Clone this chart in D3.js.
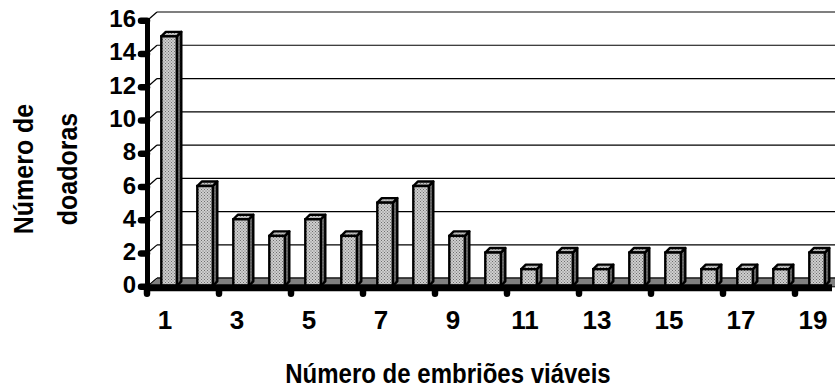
<!DOCTYPE html>
<html>
<head>
<meta charset="utf-8">
<script src="https://cdn.jsdelivr.net/npm/d3@7"></script>
<style>
  html, body { margin: 0; padding: 0; background: #fff; }
  svg { display: block; }
  text { font-family: "Liberation Sans", Arial, Helvetica, sans-serif; font-weight: bold; fill: #000; }
</style>
</head>
<body>
<svg id="chart" width="835" height="389"></svg>
<script>
// Number of viable embryos per donor
const categories = d3.range(1, 20).map(String);
const donors = [15, 6, 4, 3, 4, 3, 5, 6, 3, 2, 1, 2, 1, 2, 2, 1, 1, 1, 2];
const yTicks = [0, 2, 4, 6, 8, 10, 12, 14, 16];
const xTickLabels = ["1", "3", "5", "7", "9", "11", "13", "15", "17", "19"];
const xTitle = "Número de embriões viáveis";
const yTitleLines = ["Número de", "doadoras"];

const W = 835, H = 389;
const svg = d3.select("#chart");

// front plane of the 3D box
const x0 = 147, x1 = 831;
const x = d3.scaleBand().domain(categories).range([x0, x1]).padding(0);
const y = d3.scaleLinear().domain([0, 16]).range([286.8, 20.7]);

// oblique depth of the box (back wall offset) and of each column
const DX = 10, DY = -8.7;
const bDX = 4.5, bDY = -4.5;
const barOffset = 14.3, barW = 15.5, barLift = -1;

// fills
const defs = svg.append("defs");
function stipple(id, bg, dot) {
  const p = defs.append("pattern").attr("id", id)
    .attr("width", 3).attr("height", 3).attr("patternUnits", "userSpaceOnUse");
  p.append("rect").attr("width", 3).attr("height", 3).attr("fill", bg);
  p.append("rect").attr("x", 0).attr("y", 0).attr("width", 1).attr("height", 1).attr("fill", dot);
  p.append("rect").attr("x", 1.5).attr("y", 1.5).attr("width", 1).attr("height", 1).attr("fill", dot);
}
stipple("frontFill", "#cfcfcf", "#6e6e6e");
stipple("sideFill", "#6a6a6a", "#333");
stipple("topFill", "#c4c4c4", "#7a7a7a");

// back wall gridlines
svg.append("g").selectAll("line").data(yTicks).join("line")
  .attr("x1", x0 + DX).attr("x2", W + 2)
  .attr("y1", d => y(d) + DY).attr("y2", d => y(d) + DY)
  .attr("stroke", "#000").attr("stroke-width", 1.2);

// side wall gridlines
svg.append("g").selectAll("line").data(yTicks).join("line")
  .attr("x1", x0).attr("x2", x0 + DX)
  .attr("y1", d => y(d)).attr("y2", d => y(d) + DY)
  .attr("stroke", "#000").attr("stroke-width", 1.2);

// floor
svg.append("path")
  .attr("d", `M${x0},${y(0)} L${x0 + DX},${y(0) + DY} L${W + 2},${y(0) + DY} L${W + 2},${y(0)} Z`)
  .attr("fill", "#808080").attr("stroke", "#000").attr("stroke-width", 1);

// columns
const bars = svg.append("g").selectAll("g").data(donors).join("g");
bars.each(function (v, i) {
  const g = d3.select(this);
  const fx = x(categories[i]) + barOffset;
  const yt = y(v) + barLift, yb = y(0) + barLift;
  g.append("path")
    .attr("d", `M${fx + barW},${yt} L${fx + barW + bDX},${yt + bDY} L${fx + barW + bDX},${yb + bDY} L${fx + barW},${yb} Z`)
    .attr("fill", "url(#sideFill)").attr("stroke", "#000").attr("stroke-width", 2.4).attr("stroke-linejoin", "round");
  g.append("path")
    .attr("d", `M${fx},${yt} L${fx + bDX},${yt + bDY} L${fx + barW + bDX},${yt + bDY} L${fx + barW},${yt} Z`)
    .attr("fill", "url(#topFill)").attr("stroke", "#000").attr("stroke-width", 2.4).attr("stroke-linejoin", "round");
  g.append("rect")
    .attr("x", fx).attr("y", yt).attr("width", barW).attr("height", yb - yt)
    .attr("fill", "url(#frontFill)").attr("stroke", "#000").attr("stroke-width", 2.4);
});

// category axis
svg.append("line")
  .attr("x1", x0).attr("x2", x1 + 1)
  .attr("y1", y(0) + 1).attr("y2", y(0) + 1)
  .attr("stroke", "#000").attr("stroke-width", 7);
const xTickPos = d3.range(0, categories.length, 2).map(i => x(categories[i]));
svg.append("g").selectAll("line").data(xTickPos).join("line")
  .attr("x1", d => d).attr("x2", d => d)
  .attr("y1", y(0) + 3).attr("y2", y(0) + 7)
  .attr("stroke", "#000").attr("stroke-width", 6.5).attr("stroke-linecap", "round");
svg.append("g").selectAll("text").data(xTickLabels).join("text")
  .attr("x", d => x(d) + x.bandwidth() / 2)
  .attr("y", 329)
  .attr("text-anchor", "middle")
  .attr("font-size", 26)
  .text(d => d);

// value axis
svg.append("line")
  .attr("x1", x0 + 0.5).attr("x2", x0 + 0.5)
  .attr("y1", y(16) - 2.5).attr("y2", y(0) + 4)
  .attr("stroke", "#000").attr("stroke-width", 5);
svg.append("g").selectAll("line").data(yTicks).join("line")
  .attr("x1", x0 - 6).attr("x2", x0)
  .attr("y1", d => y(d)).attr("y2", d => y(d))
  .attr("stroke", "#000").attr("stroke-width", 6.5).attr("stroke-linecap", "round");
svg.append("g").selectAll("text").data(yTicks).join("text")
  .attr("x", 136)
  .attr("y", d => y(d) + 6.5)
  .attr("text-anchor", "end")
  .attr("font-size", 24)
  .text(d => d);

// axis titles (slightly tall lettering)
svg.append("text")
  .attr("transform", "translate(448,382.5) scale(1,1.15)")
  .attr("text-anchor", "middle")
  .attr("font-size", 24)
  .text(xTitle);

const yTitle = svg.append("text")
  .attr("transform", "translate(33,169) rotate(-90) scale(1,1.12)")
  .attr("text-anchor", "middle")
  .attr("font-size", 25);
yTitleLines.forEach((t, i) => {
  yTitle.append("tspan").attr("x", 0).attr("dy", i === 0 ? 0 : 39).text(t);
});
</script>
</body>
</html>
